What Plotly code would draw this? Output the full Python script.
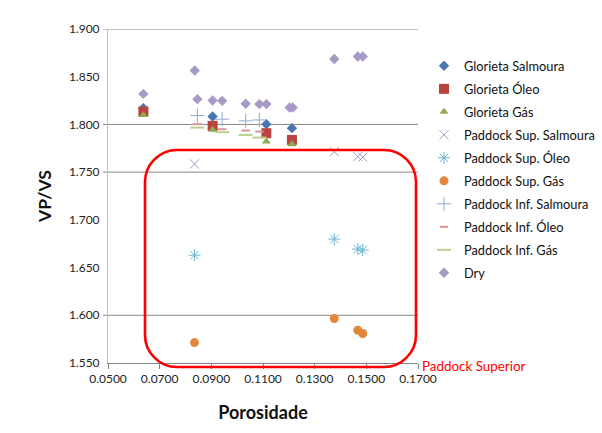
import plotly.graph_objects as go

# ---- data ----
glo_x = [0.0637, 0.0905, 0.1113, 0.1212]
glo_salmoura = [1.8170, 1.8083, 1.8003, 1.7961]
glo_oleo = [1.8135, 1.7985, 1.7908, 1.7838]
glo_gas = [1.8100, 1.7943, 1.7820, 1.7793]

sup_x = [0.0835, 0.1376, 0.1467, 0.1486]
sup_salmoura = [1.7586, 1.7715, 1.7663, 1.7656]
sup_oleo = [1.6630, 1.6799, 1.6694, 1.6683]
sup_gas = [1.5714, 1.5966, 1.5843, 1.5809]

inf_x = [0.0846, 0.0942, 0.1033, 0.1086]
inf_salmoura = [1.8093, 1.8055, 1.8037, 1.8047]
inf_oleo = [1.8003, 1.7950, 1.7936, 1.7925]
inf_gas = [1.7967, 1.7919, 1.7890, 1.7862]

dry_x = [0.0637, 0.0836, 0.0846, 0.0905, 0.0942, 0.1033, 0.1086, 0.1113,
         0.1203, 0.1215, 0.1376, 0.1467, 0.1486]
dry_y = [1.8320, 1.8565, 1.8265, 1.8250, 1.8247, 1.8216, 1.8213, 1.8213,
         1.8177, 1.8177, 1.8685, 1.8712, 1.8712]

x_ticks = [0.05, 0.07, 0.09, 0.11, 0.13, 0.15, 0.17]
y_ticks = [1.55, 1.60, 1.65, 1.70, 1.75, 1.80, 1.85, 1.90]
grid_y = [1.90, 1.80, 1.75, 1.60]

FONT = "Lato"

series = [
    ("Glorieta Salmoura", glo_x, glo_salmoura, dict(symbol="diamond", size=8, color="#4A76AE")),
    ("Glorieta Óleo", glo_x, glo_oleo, dict(symbol="square", size=10, color="#B8433F")),
    ("Glorieta Gás", glo_x, glo_gas, dict(symbol="triangle-up", size=8, color="#8DAA4F")),
    ("Paddock Sup. Salmoura", sup_x, sup_salmoura,
     dict(symbol="x-thin-open", size=9, color="#A496C0", line=dict(width=1, color="#A496C0"))),
    ("Paddock Sup. Óleo", sup_x, sup_oleo,
     dict(symbol="asterisk-open", size=10, color="#6BB8D0", line=dict(width=1, color="#6BB8D0"))),
    ("Paddock Sup. Gás", sup_x, sup_gas, dict(symbol="circle", size=9, color="#E2873B")),
    ("Paddock Inf. Salmoura", inf_x, inf_salmoura,
     dict(symbol="cross-thin-open", size=10, color="#8EA9D0", line=dict(width=1, color="#8EA9D0"))),
    ("Paddock Inf. Óleo", inf_x, inf_oleo,
     dict(symbol="line-ew-open", size=6, color="#D99694", line=dict(width=2, color="#D99694"))),
    ("Paddock Inf. Gás", inf_x, inf_gas,
     dict(symbol="line-ew-open", size=10, color="#BBD08E", line=dict(width=2, color="#BBD08E"))),
    ("Dry", dry_x, dry_y, dict(symbol="diamond", size=8, color="#A79AC6")),
]

fig = go.Figure()
for i, (name, xs, ys, mk) in enumerate(series):
    fig.add_trace(go.Scatter(x=xs, y=ys, mode="markers", name=name, marker=mk,
                             legendgroup=f"g{i}"))

# plot area in pixels
L, R, T, B = 108, 418, 29, 363
W, H = R - L, B - T

def px(x, y):
    return (x - L) / W, (B - y) / H

# gridlines (with tick stubs)
shapes = []
for gv in grid_y:
    shapes.append(dict(type="line", xref="paper", yref="y", x0=-5 / W, x1=1, y0=gv, y1=gv,
                       line=dict(color="#868686", width=1), layer="below"))

# rounded rectangle highlight
x0, x1, y0, y1 = 145, 416, 150, 367
r = 32
k = 0.45
def P(x, y):
    a, b = px(x, y)
    return f"{a:.5f},{b:.5f}"
path = (f"M {P(x0 + r, y0)} L {P(x1 - r, y0)} "
        f"C {P(x1 - r * k, y0)} {P(x1, y0 + r * k)} {P(x1, y0 + r)} "
        f"L {P(x1, y1 - r)} "
        f"C {P(x1, y1 - r * k)} {P(x1 - r * k, y1)} {P(x1 - r, y1)} "
        f"L {P(x0 + r, y1)} "
        f"C {P(x0 + r * k, y1)} {P(x0, y1 - r * k)} {P(x0, y1 - r)} "
        f"L {P(x0, y0 + r)} "
        f"C {P(x0, y0 + r * k)} {P(x0 + r * k, y0)} {P(x0 + r, y0)} Z")
shapes.append(dict(type="path", xref="paper", yref="paper", path=path,
                   line=dict(color="#FF0000", width=2.6), layer="above"))

fig.update_layout(
    width=602, height=433,
    margin=dict(l=L, r=602 - R, t=T, b=433 - B, autoexpand=False),
    paper_bgcolor="white", plot_bgcolor="white",
    font=dict(family=FONT, size=12, color="#222222"),
    shapes=shapes,
    showlegend=True,
    legend=dict(x=(424 - L) / W, xanchor="left", y=px(0, 51)[1], yanchor="top",
                font=dict(family=FONT, size=12.8, color="#111111"),
                tracegroupgap=3.36, itemwidth=30, bgcolor="rgba(0,0,0,0)"),
    annotations=[dict(text="Paddock Superior", xref="paper", yref="paper",
                      x=px(420, 0)[0], y=px(0, 366)[1], xanchor="left", yanchor="middle",
                      showarrow=False, font=dict(family=FONT, size=13.4, color="#FF0000"))],
)

fig.update_xaxes(range=[0.05, 0.17], tickvals=x_ticks, tickformat=".4f",
                 showgrid=False, zeroline=False, showline=True, linecolor="#868686",
                 ticks="outside", ticklen=5, tickcolor="#868686",
                 tickfont=dict(family=FONT, size=12, color="#222222"),
                 title=dict(text="<b>Porosidade</b>", font=dict(family=FONT, size=18, color="#111111"),
                            standoff=20))
fig.update_yaxes(range=[1.55, 1.90], tickvals=y_ticks, tickformat=".3f",
                 showgrid=False, zeroline=False, showline=True, linecolor="#BFBFBF",
                 ticks="outside", ticklen=5, tickcolor="rgba(0,0,0,0)",
                 tickfont=dict(family=FONT, size=12, color="#222222"),
                 title=dict(text="<b>VP/VS</b>", font=dict(family=FONT, size=17.5, color="#111111"),
                            standoff=12))

fig.write_html("out.html")
